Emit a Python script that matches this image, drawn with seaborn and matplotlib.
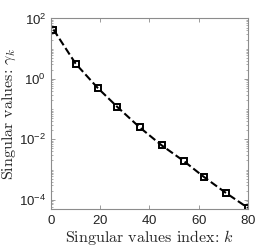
import numpy as np
import matplotlib
matplotlib.use("Agg")
import matplotlib.pyplot as plt
import matplotlib.ticker as mticker
import seaborn as sns

# singular value index and singular values
k = [1, 10, 19, 27, 36, 45, 54, 62, 71, 80]
gamma = [43, 3.2, 0.5, 0.117, 0.025, 0.0063, 0.0019, 5.8e-4, 1.7e-4, 5.4e-5]

xticks = [0, 20, 40, 60, 80]
yticks = [1e-4, 1e-2, 1e0, 1e2]

sns.set_style("ticks")
plt.rcParams['font.family'] = ['Liberation Sans', 'DejaVu Sans']
plt.rcParams['mathtext.fontset'] = 'cm'
plt.rcParams['axes.formatter.use_mathtext'] = True

grey = '#8c8c8c'
fig = plt.figure(figsize=(2.74, 2.49), dpi=100)
ax = fig.add_axes([0.186, 0.161, 0.719, 0.765])

sns.lineplot(x=k, y=gamma, ax=ax, color='k', linestyle='--', linewidth=1.5,
             marker='s', markersize=5, markerfacecolor='none',
             markeredgecolor='k', markeredgewidth=1.4)

ax.set_yscale('log')
ax.set_xlim(0, 80)
ax.set_ylim(5e-5, 100)
ax.set_xticks(xticks)
ax.set_yticks(yticks)
ax.yaxis.set_minor_locator(mticker.LogLocator(base=10, subs=np.arange(1, 10), numticks=20))
ax.yaxis.set_minor_formatter(mticker.NullFormatter())

for s in ax.spines.values():
    s.set_color(grey)
    s.set_linewidth(0.8)
    s.set_visible(True)
ax.tick_params(which='both', direction='in', top=True, right=True, color=grey,
               labelsize=9.5, labelcolor='#222222')
ax.tick_params(which='major', length=3, width=0.6)
ax.tick_params(which='minor', length=1.5, width=0.5)

ax.set_xlabel('Singular values index: $k$', fontfamily='cmr10', fontsize=11.5, labelpad=1)
ax.set_ylabel(r'Singular values: $\gamma_k$', fontfamily='cmr10', fontsize=11.5, labelpad=1)

fig.savefig('out.png', dpi=100)
